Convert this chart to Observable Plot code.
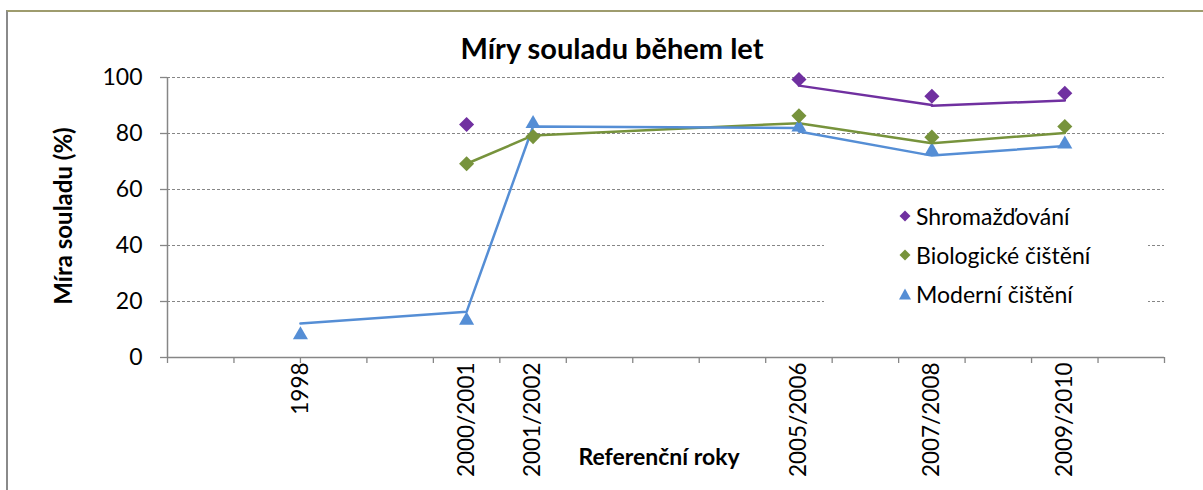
<!DOCTYPE html>
<html>
<head>
<meta charset="utf-8">
<script src="https://cdn.jsdelivr.net/npm/d3@7"></script>
<script src="https://cdn.jsdelivr.net/npm/@observablehq/plot@0.6"></script>
<style>
  body { margin: 0; background: #fff; font-family: Lato, "Noto Sans", sans-serif; }
  #wrap { position: relative; width: 1203px; height: 490px; overflow: hidden; background: #fff; }
  #chart { position: absolute; left: 0; top: 0; }
  #border { position: absolute; left: 6px; top: 10px; right: -10px; bottom: -10px;
            border-top: 2px solid #9E9C6E; border-left: 2px solid #8A8A8A; }
  #title { position: absolute; left: 612px; top: 47px; transform: translate(-50%, -50%);
           font-weight: bold; font-size: 29px; white-space: nowrap; color: #000; }
  #ylab { position: absolute; left: 62px; top: 216px; transform: translate(-50%, -50%) rotate(-90deg);
          font-weight: bold; font-size: 24px; white-space: nowrap; color: #000; }
  #xlab { position: absolute; left: 659px; top: 456px; transform: translate(-50%, -50%);
          font-weight: bold; font-size: 23px; white-space: nowrap; color: #000; }
  #legend { position: absolute; left: 824px; top: 196px; width: 324px; height: 118px; background: #fff; }
  .li { position: absolute; left: 75px; height: 26px; display: flex; align-items: center;
        font-size: 23px; color: #000; white-space: nowrap; }
  .li svg { margin-right: 5px; }
</style>
</head>
<body>
<div id="wrap">
  <div id="chart"></div>
  <div id="border"></div>
  <div id="title">Míry souladu během let</div>
  <div id="ylab">Míra souladu (%)</div>
  <div id="xlab">Referenční roky</div>
  <div id="legend"></div>
</div>
<script>
// Category labels and their positions on the (continuous) year axis
const years = ["1998", "2000/2001", "2001/2002", "2005/2006", "2007/2008", "2009/2010"];
const yearPos = [1998, 2000.5, 2001.5, 2005.5, 2007.5, 2009.5];
const axisYears = [1996, 1997, 1998, 1999, 2000, 2001, 2002, 2003, 2004, 2005, 2006, 2007, 2008, 2009, 2010, 2011];
const yTicks = [0, 20, 40, 60, 80, 100];

const seriesNames = ["Shromažďování", "Biologické čištění", "Moderní čištění"];
const seriesColors = ["#7030A0", "#77933C", "#558ED5"];

// Marker values (%)
const shromMarkers = [null, 83.2, null, 99.3, 93.3, 94.4];
const bioMarkers   = [null, 69.2, 78.9, 86.3, 78.7, 82.5];
const modMarkers   = [8.8, 14.0, 84.2, 83.0, 74.5, 76.9];

// Line values (%), drawn as separate segments
const shromLineA = [null, null, null, 97.1, 90.2, null];
const shromLineB = [null, null, null, null, 89.9, 91.8];
const bioLine    = [null, 69.2, 79.3, 83.7, 76.5, 80.2];
const modLineA   = [12.1, 16.3, 82.5, 82.0, null, null];
const modLineB   = [null, null, null, 80.7, 72.1, 75.5];

function rows(vals, seg) {
  return vals.map((v, i) => ({x: yearPos[i], y: v, seg})).filter(d => d.y != null);
}
const labelOf = new Map(yearPos.map((p, i) => [p, years[i]]));

const chart = Plot.plot({
  width: 1203,
  height: 490,
  marginLeft: 167,
  marginRight: 39,
  marginTop: 77,
  marginBottom: 133,
  style: {fontFamily: "Lato, 'Noto Sans', sans-serif", fontSize: "23px", color: "#000", background: "transparent"},
  x: {domain: [1996, 2011]},
  y: {domain: [0, 100]},
  marks: [
    Plot.gridY(yTicks.slice(1), {stroke: "#868686", strokeOpacity: 1, strokeWidth: 1, strokeDasharray: "3,2"}),
    Plot.ruleX([1996], {stroke: "#868686", strokeWidth: 1.5}),
    Plot.ruleY([0], {stroke: "#868686", strokeWidth: 1.5}),
    Plot.axisY(yTicks, {tickSize: 7, tickPadding: 18, stroke: "#868686", strokeWidth: 1.3, fill: "#000", fontSize: 23, label: null}),
    Plot.axisX(axisYears, {tickSize: 6, stroke: "#868686", strokeWidth: 1.3, tickFormat: () => "", label: null}),
    Plot.axisX(yearPos, {tickSize: 0, tickPadding: 5, tickRotate: -90, fill: "#000", fontSize: 22.5,
                         tickFormat: d => labelOf.get(d), label: null}),
    Plot.line(rows(bioLine, "b"), {x: "x", y: "y", z: "seg", stroke: seriesColors[1], strokeWidth: 2.5}),
    Plot.line([...rows(modLineA, "a"), ...rows(modLineB, "b")], {x: "x", y: "y", z: "seg", stroke: seriesColors[2], strokeWidth: 2.5}),
    Plot.line([...rows(shromLineA, "a"), ...rows(shromLineB, "b")], {x: "x", y: "y", z: "seg", stroke: seriesColors[0], strokeWidth: 2.5}),
    Plot.dot(rows(modMarkers, "m"), {x: "x", y: "y", symbol: "triangle", r: 5.6, dy: 2, fill: seriesColors[2], stroke: "none"}),
    Plot.dot(rows(bioMarkers, "m"), {x: "x", y: "y", symbol: "diamond2", r: 6.8, fill: seriesColors[1], stroke: "none"}),
    Plot.dot(rows(shromMarkers, "m"), {x: "x", y: "y", symbol: "diamond2", r: 6.8, fill: seriesColors[0], stroke: "none"})
  ]
});
document.getElementById("chart").appendChild(chart);

// Legend
const legend = document.getElementById("legend");
const legendTops = [7, 46, 85];
seriesNames.forEach((name, i) => {
  const item = document.createElement("div");
  item.className = "li";
  item.style.top = legendTops[i] + "px";
  const shape = i < 2
    ? `<polygon points="6,0.5 11.5,6 6,11.5 0.5,6" fill="${seriesColors[i]}"/>`
    : `<polygon points="6,0.5 12,11.5 0,11.5" fill="${seriesColors[i]}"/>`;
  item.innerHTML = `<svg width="12" height="12" viewBox="0 0 12 12">${shape}</svg><span>${name}</span>`;
  legend.appendChild(item);
});
</script>
</body>
</html>
